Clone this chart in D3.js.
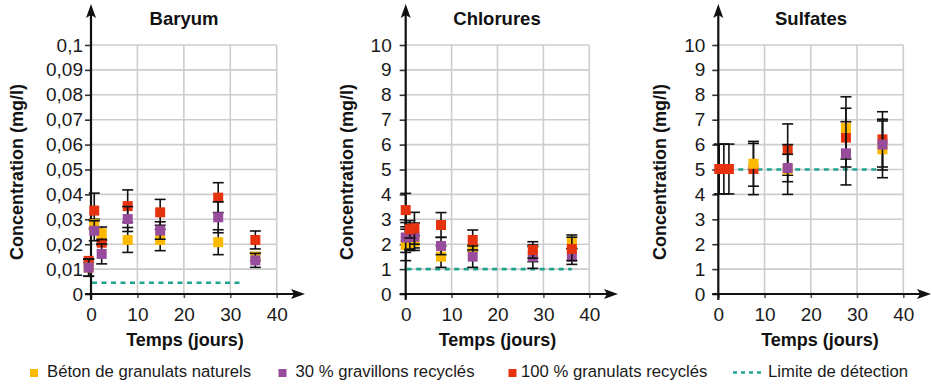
<!DOCTYPE html>
<html>
<head>
<meta charset="utf-8">
<script src="https://cdn.jsdelivr.net/npm/d3@7"></script>
<style>
  html, body { margin: 0; padding: 0; background: #fff; }
  svg { display: block; font-family: "Liberation Sans", Arial, sans-serif; }
</style>
</head>
<body>
<svg id="chart" width="932" height="386"></svg>
<script>
// ---------------- DATA ----------------
const seriesLabels = ["Béton de granulats naturels", "30 % gravillons recyclés", "100 % granulats recyclés"];
const limitLabel = "Limite de détection";
const xTickValues = [0, 10, 20, 30, 40];

// Baryum (mg/l)
const baryumTimes = [-0.5, 0.7, 2.3, 7.9, 14.9, 27.4, 35.4];
const baryumNaturels = [0.0106, 0.028, 0.0244, 0.0217, 0.0217, 0.0208, 0.0150];
const baryumNaturelsErr = [0.0035, 0.002, 0.0025, 0.005, 0.0043, 0.005, 0.0016];
const baryumGrav30 = [0.0106, 0.0254, 0.0161, 0.0301, 0.0255, 0.0308, 0.0135];
const baryumGrav30Err = [0.0034, 0.004, 0.004, 0.005, 0.0035, 0.0062, 0.0028];
const baryumGran100 = [0.0133, 0.0335, 0.0206, 0.0353, 0.0328, 0.0387, 0.0217];
const baryumGran100Err = [0.0006, 0.007, 0.0008, 0.0065, 0.0052, 0.006, 0.0036];
const baryumLimit = 0.0045, baryumLimitEnd = 32.8;
const baryumTickValues = [0, 0.01, 0.02, 0.03, 0.04, 0.05, 0.06, 0.07, 0.08, 0.09, 0.1];
const baryumTickLabels = ["0", "0,01", "0,02", "0,03", "0,04", "0,05", "0,06", "0,07", "0,08", "0,09", "0,1"];

// Chlorures (mg/l)
const chloruresTimes = [0, 0.9, 1.9, 7.7, 14.6, 27.7, 36.2];
const chloruresNaturels = [1.97, 2.05, 2.1, 1.5, 1.85, 1.6, 2.1];
const chloruresNaturelsErr = [0.63, 0.3, 0.25, 0.43, 0.12, 0.3, 0.27];
const chloruresGrav30 = [2.27, 2.3, 2.3, 1.93, 1.5, 1.5, 1.5];
const chloruresGrav30Err = [0.6, 0.5, 0.55, 0.35, 0.43, 0.47, 0.31];
const chloruresGran100 = [3.37, 2.6, 2.64, 2.77, 2.17, 1.77, 1.81];
const chloruresGran100Err = [0.67, 0.35, 0.64, 0.5, 0.4, 0.33, 0.47];
const chloruresLimit = 1, chloruresLimitEnd = 36.2;
const chloruresTickValues = [0, 1, 2, 3, 4, 5, 6, 7, 8, 9, 10];
const chloruresTickLabels = ["0", "1", "2", "3", "4", "5", "6", "7", "8", "9", "10"];

// Sulfates (mg/l)
const sulfatesTimes = [0.2, 1.2, 2.3, 7.6, 15.0, 27.6, 35.5];
const sulfatesNaturels = [null, null, null, 5.23, 5.0, 6.67, 5.81];
const sulfatesNaturelsErr = [null, null, null, 0.9, 1.0, 1.25, 1.14];
const sulfatesGrav30 = [null, null, null, null, 5.06, 5.65, 6.0];
const sulfatesGrav30Err = [null, null, null, null, 0.55, 1.27, 1.02];
const sulfatesGran100 = [5.02, 5.02, 5.02, 5.02, 5.8, 6.28, 6.21];
const sulfatesGran100Err = [1.0, 1.0, 1.0, 1.03, 1.03, 1.18, 1.11];
const sulfatesLimit = 5, sulfatesLimitEnd = 35.3;
const sulfatesTickValues = [0, 1, 2, 3, 4, 5, 6, 7, 8, 9, 10];
const sulfatesTickLabels = ["0", "1", "2", "3", "4", "5", "6", "7", "8", "9", "10"];

// ---------------- STYLE / LAYOUT ----------------
const colors = { nat: "#FBB900", g30: "#984D9C", g100: "#E5330F" };
const limitColor = "#1FA38E";
const gridColor = "#cdcdcd";
const yTop = 45, yBottom = 294;

const panels = [
  { title: "Baryum", times: baryumTimes, yMax: 0.1,
    series: { nat: [baryumNaturels, baryumNaturelsErr], g30: [baryumGrav30, baryumGrav30Err], g100: [baryumGran100, baryumGran100Err] },
    order: ["g100", "nat", "g30"],
    limit: baryumLimit, limitEnd: baryumLimitEnd,
    tickValues: baryumTickValues, tickLabels: baryumTickLabels,
    x0: 91, x40: 276.7, tickPad: 2, yLabelX: 23, titleX: 184, xLabelX: 185, arrowTip: 305 },
  { title: "Chlorures", times: chloruresTimes, yMax: 10,
    series: { nat: [chloruresNaturels, chloruresNaturelsErr], g30: [chloruresGrav30, chloruresGrav30Err], g100: [chloruresGran100, chloruresGran100Err] },
    order: ["nat", "g30", "g100"],
    limit: chloruresLimit, limitEnd: chloruresLimitEnd,
    tickValues: chloruresTickValues, tickLabels: chloruresTickLabels,
    x0: 405.7, x40: 589.3, tickPad: 8, yLabelX: 352.5, titleX: 497, xLabelX: 497.5, arrowTip: 618 },
  { title: "Sulfates", times: sulfatesTimes, yMax: 10,
    series: { nat: [sulfatesNaturels, sulfatesNaturelsErr], g30: [sulfatesGrav30, sulfatesGrav30Err], g100: [sulfatesGran100, sulfatesGran100Err] },
    order: ["g100", "nat", "g30"],
    limit: sulfatesLimit, limitEnd: sulfatesLimitEnd,
    tickValues: sulfatesTickValues, tickLabels: sulfatesTickLabels,
    x0: 718.3, x40: 903.3, tickPad: 7, yLabelX: 666, titleX: 811, xLabelX: 820, arrowTip: 931 }
];

const svg = d3.select("#chart");
const SQ = 10, CAP = 11;

panels.forEach(p => {
  const x = d3.scaleLinear().domain([0, 40]).range([p.x0, p.x40]);
  const y = d3.scaleLinear().domain([0, p.yMax]).range([yBottom, yTop]);
  const g = svg.append("g");

  // grid
  g.selectAll("line.hg").data(p.tickValues.filter(v => v > 0)).join("line")
    .attr("x1", p.x0).attr("x2", x(40)).attr("y1", d => y(d)).attr("y2", d => y(d))
    .attr("stroke", gridColor).attr("stroke-width", 1.6);
  g.selectAll("line.vg").data(xTickValues.filter(v => v > 0)).join("line")
    .attr("x1", d => x(d)).attr("x2", d => x(d)).attr("y1", yTop).attr("y2", yBottom)
    .attr("stroke", gridColor).attr("stroke-width", 1.6);

  // y axis ticks + labels
  const yAxis = d3.axisLeft(y).tickValues(p.tickValues)
    .tickFormat((d, i) => p.tickLabels[i]).tickSize(6).tickPadding(p.tickPad);
  const ya = g.append("g").attr("transform", `translate(${p.x0},0)`).call(yAxis);
  ya.select(".domain").remove();
  ya.selectAll(".tick line").attr("stroke", "#333").attr("stroke-width", 1.6);
  ya.selectAll(".tick text").attr("font-size", 19).attr("fill", "#1a1a1a")
    .attr("font-family", "'Liberation Sans', Arial, sans-serif");

  // x axis ticks + labels
  const xAxis = d3.axisBottom(x).tickValues(xTickValues).tickSize(4).tickPadding(10);
  const xa = g.append("g").attr("transform", `translate(0,${yBottom})`).call(xAxis);
  xa.select(".domain").remove();
  xa.selectAll(".tick line").attr("stroke", "#555").attr("stroke-width", 1.6);
  xa.selectAll(".tick text").attr("font-size", 19).attr("fill", "#1a1a1a")
    .attr("font-family", "'Liberation Sans', Arial, sans-serif");

  // axis lines with arrows
  g.append("line").attr("x1", p.x0).attr("x2", p.x0).attr("y1", 300).attr("y2", 10)
    .attr("stroke", "#111").attr("stroke-width", 2.2);
  g.append("path")
    .attr("d", `M${p.x0},4 L${p.x0 - 5},18 L${p.x0},15 L${p.x0 + 5},18 Z`).attr("fill", "#111");
  g.append("line").attr("x1", p.x0 - 6).attr("x2", p.arrowTip - 4).attr("y1", yBottom).attr("y2", yBottom)
    .attr("stroke", "#111").attr("stroke-width", 2.2);
  g.append("path")
    .attr("d", `M${p.arrowTip},${yBottom} L${p.arrowTip - 14},${yBottom - 5} L${p.arrowTip - 11},${yBottom} L${p.arrowTip - 14},${yBottom + 5} Z`)
    .attr("fill", "#111");

  // detection limit
  g.append("line").attr("x1", x(0) + 1).attr("x2", x(p.limitEnd))
    .attr("y1", y(p.limit)).attr("y2", y(p.limit))
    .attr("stroke", limitColor).attr("stroke-width", 2.6).attr("stroke-dasharray", "5,4.5");

  // series
  p.order.forEach(key => {
    const [vals, errs] = p.series[key];
    const pts = p.times.map((t, i) => ({ t, v: vals[i], e: errs[i] })).filter(d => d.v != null);
    const sg = g.append("g");
    const eb = sg.selectAll("g.eb").data(pts).join("g");
    eb.append("line").attr("x1", d => x(d.t)).attr("x2", d => x(d.t))
      .attr("y1", d => y(d.v - d.e)).attr("y2", d => y(d.v + d.e))
      .attr("stroke", "#111").attr("stroke-width", 1.6);
    eb.append("line").attr("x1", d => x(d.t) - CAP / 2).attr("x2", d => x(d.t) + CAP / 2)
      .attr("y1", d => y(d.v + d.e)).attr("y2", d => y(d.v + d.e))
      .attr("stroke", "#111").attr("stroke-width", 1.6);
    eb.append("line").attr("x1", d => x(d.t) - CAP / 2).attr("x2", d => x(d.t) + CAP / 2)
      .attr("y1", d => y(d.v - d.e)).attr("y2", d => y(d.v - d.e))
      .attr("stroke", "#111").attr("stroke-width", 1.6);
    sg.selectAll("rect").data(pts).join("rect")
      .attr("x", d => x(d.t) - SQ / 2).attr("y", d => y(d.v) - SQ / 2)
      .attr("width", SQ).attr("height", SQ).attr("fill", colors[key]);
  });

  // titles and axis labels
  g.append("text").attr("x", p.titleX).attr("y", 25).attr("text-anchor", "middle")
    .attr("font-size", 18.5).attr("font-weight", "bold").attr("fill", "#111").text(p.title);
  g.append("text").attr("x", p.xLabelX).attr("y", 346).attr("text-anchor", "middle")
    .attr("font-size", 18).attr("font-weight", "bold").attr("fill", "#111").text("Temps (jours)");
  g.append("text").attr("transform", `translate(${p.yLabelX},172) rotate(-90)`).attr("text-anchor", "middle")
    .attr("font-size", 18).attr("font-weight", "bold").attr("fill", "#111").text("Concentration (mg/l)");
});

// legend
const legendItems = [
  { key: "nat", label: seriesLabels[0], sx: 30, tx: 47 },
  { key: "g30", label: seriesLabels[1], sx: 278.5, tx: 295.5 },
  { key: "g100", label: seriesLabels[2], sx: 508.5, tx: 521 }
];
const lg = svg.append("g");
legendItems.forEach(it => {
  lg.append("rect").attr("x", it.sx).attr("y", 369).attr("width", 8).attr("height", 8).attr("fill", colors[it.key]);
  lg.append("text").attr("x", it.tx).attr("y", 377).attr("font-size", 16.7).attr("fill", "#1a1a1a").text(it.label);
});
lg.append("line").attr("x1", 733).attr("x2", 764).attr("y1", 372.5).attr("y2", 372.5)
  .attr("stroke", limitColor).attr("stroke-width", 2.6).attr("stroke-dasharray", "4,4");
lg.append("text").attr("x", 768).attr("y", 377).attr("font-size", 16.7).attr("fill", "#1a1a1a").text(limitLabel);
</script>
</body>
</html>
